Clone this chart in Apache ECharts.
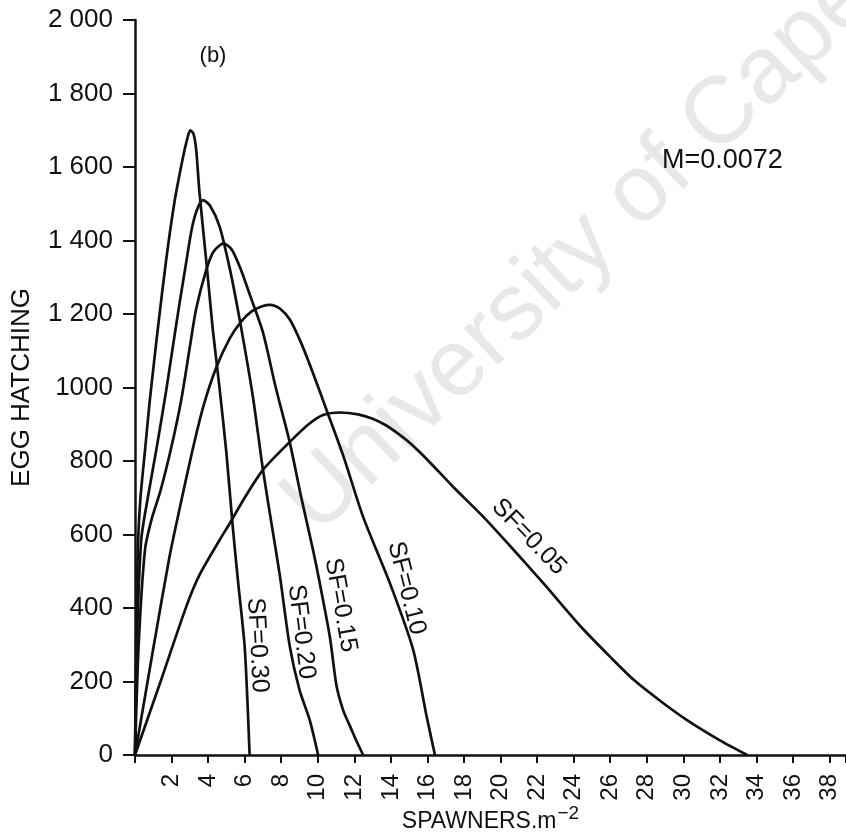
<!DOCTYPE html>
<html><head><meta charset="utf-8">
<script src="https://cdn.jsdelivr.net/npm/echarts@6/dist/echarts.min.js"></script>
<style>html,body{margin:0;padding:0;background:#fff}#c{width:846px;height:835px}</style>
</head><body><div id="c"></div>
<script>
// ---- data ----
const xTickValues = [2,4,6,8,10,12,14,16,18,20,22,24,26,28,30,32,34,36,38];
const yTickValues = [0,200,400,600,800,1000,1200,1400,1600,1800,2000];
const yTickLabels = ['0','200','400','600','800','1000','1 200','1 400','1 600','1 800','2 000'];
const seriesNames = ['SF=0.30','SF=0.20','SF=0.15','SF=0.10','SF=0.05'];

const sf030 = [[0,0],[0.04,200],[0.1,420],[0.17,580],[0.3,700],[0.55,830],[0.8,960],[1.25,1160],[1.7,1345],[2.16,1505],[2.62,1625],[2.85,1675],[3.02,1700],[3.2,1690],[3.35,1646],[3.53,1529],[3.93,1329],[4.26,1156],[4.6,1010],[5.0,822],[5.35,620],[5.63,476],[6.0,295],[6.18,113],[6.27,0]];
const sf020 = [[0,0],[0.1,300],[0.34,585],[0.7,700],[1.2,840],[1.7,990],[2.16,1140],[2.44,1230],[2.8,1340],[3.1,1430],[3.4,1485],[3.72,1510],[4.1,1495],[4.63,1438],[5.2,1320],[5.73,1184],[6.45,975],[7.0,776],[7.5,620],[7.92,490],[8.47,295],[9.0,177],[9.56,95],[10.02,0]];
const sf015 = [[0,0],[0.2,300],[0.55,560],[0.9,640],[1.4,720],[2.0,840],[2.53,966],[3.0,1110],[3.35,1215],[3.9,1320],[4.3,1370],[4.85,1392],[5.3,1375],[5.8,1320],[6.3,1250],[7.0,1150],[7.7,1000],[8.47,850],[9.1,700],[9.74,558],[10.1,470],[10.66,322],[11.02,190],[11.4,120],[11.75,80],[12.1,40],[12.48,0]];
const sf010 = [[0,0],[1.0,290],[1.89,540],[2.44,670],[3.08,815],[3.72,945],[4.45,1055],[5.2,1135],[5.82,1180],[6.4,1208],[7.0,1222],[7.4,1225],[7.92,1215],[8.47,1185],[9.1,1120],[9.74,1039],[10.48,939],[11.39,815],[12.48,648],[13.95,467],[15.22,286],[15.96,104],[16.41,0]];
const sf005 = [[0,0],[1.4,200],[2.8,403],[3.53,490],[4.63,585],[5.18,630],[6.0,700],[7.0,776],[8.47,852],[9.5,900],[10.29,925],[11.2,932],[12.2,927],[13.0,915],[13.7,898],[14.3,878],[14.9,855],[15.5,828],[16.1,798],[17.4,730],[19.06,648],[20.5,570],[22.35,467],[24.4,349],[26,267],[27.3,204],[28.8,145],[30.2,95],[32,40],[33.5,0]];
const curves = [sf030, sf020, sf015, sf010, sf005];

// curve label anchors (data coords) and text angles
const labelAnchors = [[6.7,299],[9.1,335],[11.25,408],[14.85,454],[21.55,593]];
const labelAngles = [-87,-83,-80,-76,-46];

const FONT = 'Liberation Sans';
const chart = echarts.init(document.getElementById('c'));

const series = curves.map((d,i)=>({
  name: seriesNames[i], type:'line', data:d, smooth:0.25, showSymbol:false, symbol:'none',
  lineStyle:{color:'#111', width:2.7}, z:3, silent:true
}));

const staticGraphics = [
  {type:'text', z:0, x:332, y:552, rotation:0.76,
    style:{text:'University of Cape Town', font:'95px "Liberation Sans"', fill:'#e8e8e8', textAlign:'left', textVerticalAlign:'bottom'}},
  {type:'text', z:5, x:213, y:56,
    style:{text:'(b)', font:'22px "Liberation Sans"', fill:'#111', textAlign:'center', textVerticalAlign:'middle'}},
  {type:'text', z:5, x:662, y:161,
    style:{text:'M=0.0072', font:'27px "Liberation Sans"', fill:'#111', textAlign:'left', textVerticalAlign:'middle'}}
];

chart.setOption({
  animation:false,
  backgroundColor:'#fff',
  grid:{left:135, right:0, top:20, bottom:80, containLabel:false, outerBoundsMode:'none'},
  xAxis:{
    type:'value', min:0, max:38.9, interval:2,
    axisLine:{show:true, onZero:false, lineStyle:{color:'#111', width:2.5}},
    axisTick:{show:true, inside:false, length:8, lineStyle:{color:'#111', width:2}},
    axisLabel:{rotate:90, margin:19, fontFamily:FONT, fontSize:24, color:'#111',
      formatter:v=> xTickValues.includes(v) ? String(v) : ''},
    splitLine:{show:false},
    name:'{a|SPAWNERS.m}{b|−2}', nameLocation:'middle', nameGap:49, nameMoveOverlap:false,
    nameTextStyle:{rich:{
      a:{fontFamily:FONT, fontSize:23, color:'#111', verticalAlign:'bottom'},
      b:{fontFamily:FONT, fontSize:19, color:'#111', verticalAlign:'bottom', padding:[0,0,10,1]}
    }}
  },
  yAxis:{
    type:'value', min:0, max:2000, interval:200,
    axisLine:{show:true, lineStyle:{color:'#111', width:2.5}},
    axisTick:{show:true, inside:false, length:12, lineStyle:{color:'#111', width:2}},
    axisLabel:{margin:22, fontFamily:FONT, fontSize:26, color:'#111',
      formatter:v=>{const k=yTickValues.indexOf(v); return k>=0?yTickLabels[k]:'';}},
    splitLine:{show:false},
    name:'EGG HATCHING', nameLocation:'middle', nameGap:100, nameMoveOverlap:false,
    nameTextStyle:{fontFamily:FONT, fontSize:26, color:'#111'}
  },
  graphic: staticGraphics,
  series
});

// curve labels placed through the chart's own coordinate conversion
const labelGraphics = labelAnchors.map((p,i)=>{
  const px = chart.convertToPixel({gridIndex:0}, p);
  return {type:'text', z:5, x:px[0], y:px[1], rotation:labelAngles[i]*Math.PI/180,
    style:{text:seriesNames[i], font:'25px "Liberation Sans"', fill:'#111', textAlign:'center', textVerticalAlign:'middle'}};
});
chart.setOption({graphic: staticGraphics.concat(labelGraphics)});
</script></body></html>
